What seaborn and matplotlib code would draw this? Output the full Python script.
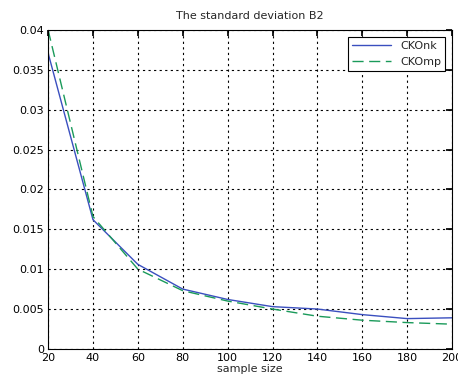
import seaborn as sns
import matplotlib.pyplot as plt
import pandas as pd

sample_size = [20, 40, 60, 80, 100, 120, 140, 160, 180, 200]
ckonk = [0.0371, 0.0162, 0.0106, 0.0075, 0.0062, 0.0053, 0.0050, 0.0043, 0.0038, 0.0039]
ckomp = [0.0400, 0.0166, 0.0100, 0.0073, 0.0060, 0.0050, 0.0041, 0.0036, 0.0033, 0.0031]

df = pd.DataFrame({'sample size': sample_size * 2,
                   'value': ckonk + ckomp,
                   'series': ['CKOnk'] * len(ckonk) + ['CKOmp'] * len(ckomp)})

sns.set_theme(style='white')
plt.rcParams['font.family'] = ['DejaVu Sans']

fig = plt.figure(figsize=(4.58, 3.83), dpi=100)
ax = fig.add_axes([0.105, 0.089, 0.882, 0.833])

sns.lineplot(data=df, x='sample size', y='value', hue='series', style='series',
             palette={'CKOnk': '#3a4fbf', 'CKOmp': '#1a9a5a'},
             dashes={'CKOnk': '', 'CKOmp': (8, 4)}, linewidth=1, ax=ax)

ax.set_xlim(20, 200)
ax.set_ylim(0, 0.04)
ax.set_xticks(range(20, 201, 20))
ax.set_yticks([0, 0.005, 0.01, 0.015, 0.02, 0.025, 0.03, 0.035, 0.04])
ax.set_yticklabels(['0', '0.005', '0.01', '0.015', '0.02', '0.025', '0.03', '0.035', '0.04'])
ax.grid(True, color='black', linestyle=(0, (2, 3)), linewidth=0.8)
ax.tick_params(direction='in', top=True, right=True, labelsize=8, length=4, pad=3, colors='black')
for s in ax.spines.values():
    s.set_color('black')
    s.set_linewidth(0.8)

ax.set_title('The standard deviation B2', fontsize=8, pad=8)
ax.set_xlabel('sample size', fontsize=8, labelpad=1)
ax.set_ylabel('')

leg = ax.legend(loc='upper right', fontsize=8, fancybox=False, framealpha=1,
                edgecolor='black', handlelength=3.5, borderaxespad=0.6)
leg.get_frame().set_linewidth(0.8)

fig.savefig('out.png', dpi=100)
